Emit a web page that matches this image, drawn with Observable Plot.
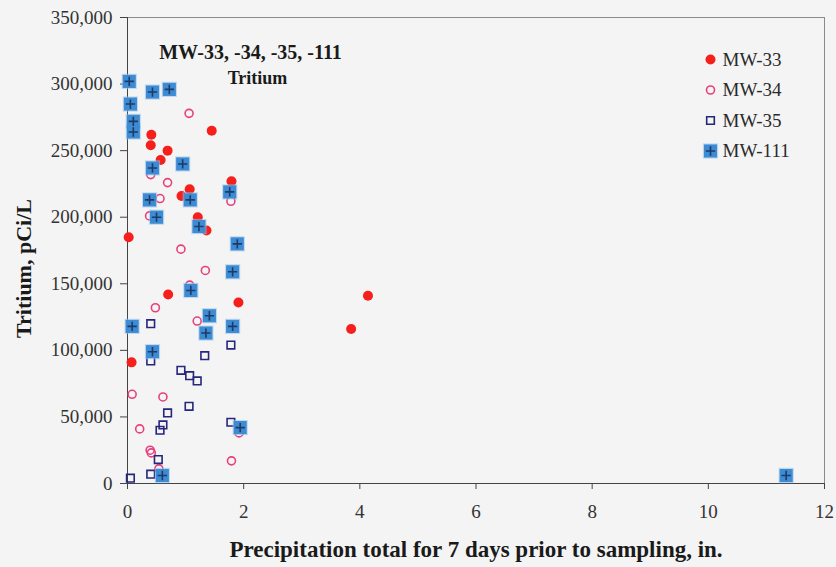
<!DOCTYPE html>
<html>
<head>
<meta charset="utf-8">
<script src="https://cdn.jsdelivr.net/npm/d3@7"></script>
<script src="https://cdn.jsdelivr.net/npm/@observablehq/plot@0.6"></script>
<style>
  html, body { margin: 0; padding: 0; background: #f4f4f4; }
</style>
</head>
<body>
<script>
// ---- data ----
const seriesNames = ["MW-33", "MW-34", "MW-35", "MW-111"];

const mw33X = [0.02, 0.07, 0.40, 0.41, 0.57, 0.69, 0.70, 0.93, 1.07, 1.21, 1.36, 1.45, 1.79, 1.91, 3.85, 4.14];
const mw33Y = [185000, 91000, 254000, 262000, 243000, 250000, 142000, 216000, 221000, 200000, 190000, 265000, 227000, 136000, 116000, 141000];

const mw34X = [1.06, 0.40, 0.69, 0.56, 1.78, 0.38, 0.92, 1.34, 1.07, 0.48, 1.20, 0.08, 0.61, 0.21, 1.92, 0.39, 0.41, 1.79, 0.54];
const mw34Y = [278000, 232000, 226000, 214000, 212000, 201000, 176000, 160000, 149000, 132000, 122000, 67000, 65000, 41000, 38000, 25000, 23000, 17000, 11000];

const mw35X = [0.40, 0.40, 1.33, 1.78, 0.92, 1.07, 1.20, 1.06, 0.69, 0.61, 0.56, 1.78, 0.53, 0.40, 0.05];
const mw35Y = [120000, 92000, 96000, 104000, 85000, 81000, 77000, 58000, 53000, 44000, 40000, 46000, 18000, 7000, 4000];

const mw111X = [0.03, 0.43, 0.72, 0.05, 0.10, 0.10, 0.43, 0.95, 0.38, 1.08, 1.76, 0.50, 1.23, 1.89, 1.81, 1.09, 1.41, 1.81, 0.08, 1.35, 0.43, 1.94, 0.60, 11.34];
const mw111Y = [302000, 294000, 296000, 285000, 272000, 264000, 237000, 240000, 213000, 213000, 219000, 200000, 193000, 180000, 159000, 145000, 126000, 118000, 118000, 113000, 99000, 42000, 6000, 6000];

const xTicks = [0, 2, 4, 6, 8, 10, 12];
const yTicks = [0, 50000, 100000, 150000, 200000, 250000, 300000, 350000];

const titleLines = ["MW-33, -34, -35, -111", "Tritium"];
const xLabel = "Precipitation total for 7 days prior to sampling, in.";
const yLabel = "Tritium, pCi/L";

// ---- build tables ----
const toRows = (xs, ys) => xs.map((x, i) => ({x, y: ys[i]}));
const d33 = toRows(mw33X, mw33Y);
const d34 = toRows(mw34X, mw34Y);
const d35 = toRows(mw35X, mw35Y);
const d111 = toRows(mw111X, mw111Y);

// styles
const C33 = "#f5201c";
const C34 = "#e8407a";
const C35 = "#26267c";
const C111 = "#3d8bd3";
const C111halo = "#9fc7ee";
const C111plus = "#1d3b68";

function m33(data, opts = {}) {
  return [Plot.dot(data, {x: "x", y: "y", r: 5, fill: C33, stroke: "none", ...opts})];
}
function m34(data, opts = {}) {
  return [Plot.dot(data, {x: "x", y: "y", r: 4, fill: "none", stroke: C34, strokeWidth: 1.6, ...opts})];
}
function m35(data, opts = {}) {
  return [Plot.dot(data, {x: "x", y: "y", symbol: "square", r: 4.3, fill: "none", stroke: C35, strokeWidth: 1.6, ...opts})];
}
function m111(data, opts = {}) {
  return [
    Plot.dot(data, {x: "x", y: "y", symbol: "square", r: 8.6, fill: C111halo, fillOpacity: 0.6, stroke: "none", ...opts}),
    Plot.dot(data, {x: "x", y: "y", symbol: "square", r: 7.4, fill: C111, stroke: "none", ...opts}),
    Plot.dot(data, {x: "x", y: "y", symbol: "plus", r: 3.1, stroke: C111plus, strokeWidth: 1.6, ...opts})
  ];
}
const markers = [m33, m34, m35, m111];

// legend marks: positioned in the frame, one row per series
const legendMarks = [];
seriesNames.forEach((name, i) => {
  const dy = 42 + i * 30.5;
  legendMarks.push(...markers[i]([name], {x: null, y: null, frameAnchor: "top-left", dx: 583, dy}));
  legendMarks.push(Plot.text([name], {
    frameAnchor: "top-left", dx: 595, dy, text: d => d, textAnchor: "start", lineAnchor: "middle",
    fontSize: 19, fill: "#2a2a2a"
  }));
});

const chart = Plot.plot({
  width: 836,
  height: 567,
  marginLeft: 127,
  marginRight: 12,
  marginTop: 17,
  marginBottom: 84,
  style: {background: "#f4f4f4", fontFamily: "'Liberation Serif', 'Times New Roman', serif", fontSize: "19px", color: "#333"},
  x: {domain: [0, 12]},
  y: {domain: [0, 350000]},
  marks: [
    Plot.frame({stroke: "#8a8a8a", strokeWidth: 1}),
    Plot.axisX({ticks: xTicks, tickSize: 6, tickPadding: 15, label: null, stroke: "#444"}),
    Plot.axisY({ticks: yTicks, tickSize: 7, tickPadding: 8, label: null, tickFormat: d3.format(","), stroke: "#444"}),
    Plot.ruleX([0], {stroke: "#444"}),
    Plot.ruleY([0], {stroke: "#444"}),
    ...m33(d33),
    ...m34(d34),
    ...m35(d35),
    ...m111(d111),
    // title
    Plot.text([titleLines[0]], {frameAnchor: "top-left", dx: 123, dy: 35, text: d => d, textAnchor: "middle", lineAnchor: "middle", fontSize: 20, fontWeight: "bold", fill: "#1a1a1a"}),
    Plot.text([titleLines[1]], {frameAnchor: "top-left", dx: 130, dy: 61, text: d => d, textAnchor: "middle", lineAnchor: "middle", fontSize: 18, fontWeight: "bold", fill: "#1a1a1a"}),
    // axis titles
    Plot.text([xLabel], {frameAnchor: "bottom", dy: 66, text: d => d, textAnchor: "middle", lineAnchor: "middle", fontSize: 23, fontWeight: "bold", fill: "#1a1a1a"}),
    Plot.text([yLabel], {frameAnchor: "left", dx: -104, dy: 18, rotate: -90, text: d => d, textAnchor: "middle", lineAnchor: "middle", fontSize: 22, fontWeight: "bold", fill: "#1a1a1a"}),
    ...legendMarks
  ]
});
document.body.appendChild(chart);
</script>
</body>
</html>
